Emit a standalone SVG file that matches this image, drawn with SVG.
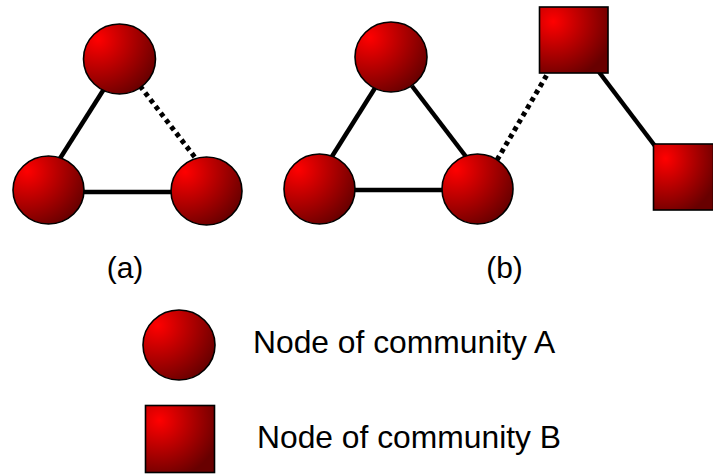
<svg xmlns="http://www.w3.org/2000/svg" width="713" height="474" viewBox="0 0 713 474">
  <defs>
    <radialGradient id="redShade" cx="0.2" cy="0.22" r="0.9" fx="0.2" fy="0.22">
      <stop offset="0" stop-color="#ff0000"/>
      <stop offset="0.4" stop-color="#c20000"/>
      <stop offset="1" stop-color="#680000"/>
    </radialGradient>
    <style>
      .node { fill: url(#redShade); stroke: #000; stroke-width: 1.6; }
      .edge { stroke: #000; stroke-width: 4.5; fill: none; }
      .dotted { stroke: #000; stroke-width: 5; stroke-dasharray: 4.5 4; fill: none; }
      .label { font-family: "Liberation Sans", Arial, sans-serif; fill: #000; }
    </style>
  </defs>

  <!-- connectors -->
  <g id="connectors">
    <!-- panel (a) -->
    <line class="edge" x1="104" y1="89" x2="59" y2="160"/>
    <line class="edge" x1="83" y1="192" x2="172" y2="192"/>
    <line class="dotted" x1="140" y1="86" x2="197" y2="160"/>
    <!-- panel (b) -->
    <line class="edge" x1="375" y1="88" x2="331" y2="158"/>
    <line class="edge" x1="412" y1="86" x2="467" y2="158"/>
    <line class="edge" x1="354" y1="190" x2="443" y2="190"/>
    <line class="dotted" x1="497" y1="160" x2="548" y2="73"/>
    <line class="edge" x1="599" y1="72" x2="655" y2="146"/>
  </g>

  <!-- panel (a) nodes -->
  <g id="a-top"><ellipse class="node" cx="119.5" cy="59" rx="36" ry="35"/></g>
  <g id="a-left"><ellipse class="node" cx="48.5" cy="190" rx="35.5" ry="34"/></g>
  <g id="a-right"><ellipse class="node" cx="206.5" cy="191" rx="35.5" ry="34"/></g>

  <!-- panel (b) nodes -->
  <g id="b-top"><ellipse class="node" cx="391" cy="57" rx="36" ry="35"/></g>
  <g id="b-left"><ellipse class="node" cx="319.5" cy="189" rx="35.5" ry="35"/></g>
  <g id="b-right"><ellipse class="node" cx="477.5" cy="189" rx="35.5" ry="35"/></g>
  <g id="b-square1"><rect class="node" x="539.5" y="7" width="68.5" height="66"/></g>
  <g id="b-square2"><rect class="node" x="653.5" y="144" width="60" height="66"/></g>

  <!-- panel captions -->
  <g id="caption-a"><text class="label" x="125" y="278" font-size="30" text-anchor="middle">(a)</text></g>
  <g id="caption-b"><text class="label" x="504.5" y="278" font-size="30" text-anchor="middle">(b)</text></g>

  <!-- legend -->
  <g id="legend-circle"><ellipse class="node" cx="179" cy="345" rx="36" ry="35"/></g>
  <g id="legend-square"><rect class="node" x="145.5" y="405.5" width="69" height="67"/></g>
  <g id="legend-text-a"><text class="label" x="253" y="353" font-size="31.8">Node of community A</text></g>
  <g id="legend-text-b"><text class="label" x="257" y="448" font-size="31.8">Node of community B</text></g>
</svg>
